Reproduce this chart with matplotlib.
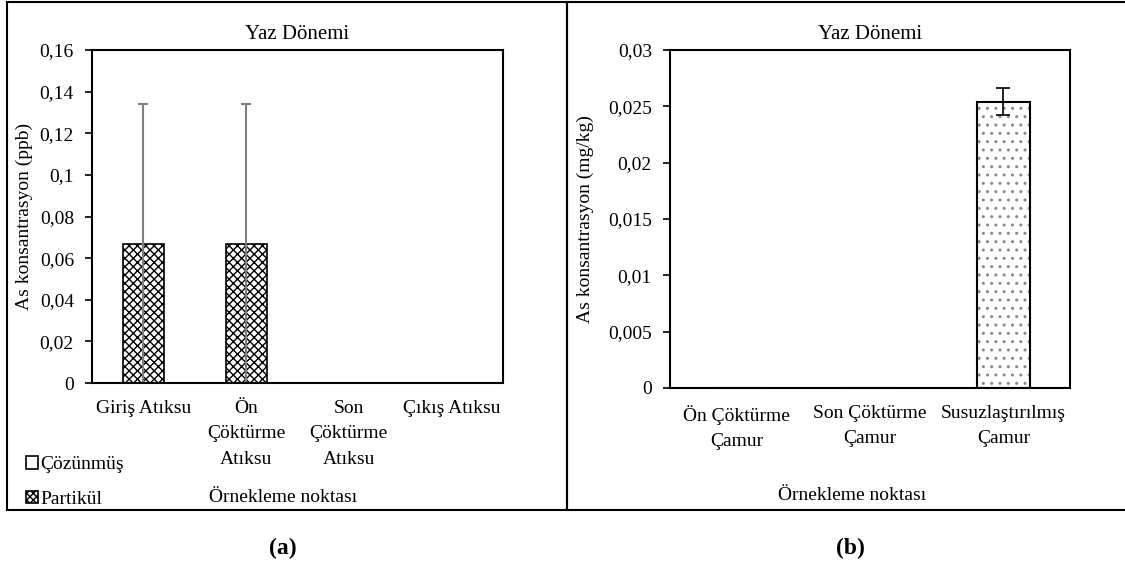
import numpy as np
import matplotlib
matplotlib.use("Agg")
import matplotlib.pyplot as plt
from matplotlib.patches import Patch, Rectangle

plt.rcParams['font.family'] = ['Liberation Serif', 'DejaVu Serif']
plt.rcParams['font.size'] = 14
plt.rcParams['hatch.linewidth'] = 1.0

# panel (a) - atıksu
cats_a = ['Giriş Atıksu', 'Ön\nÇöktürme\nAtıksu', 'Son\nÇöktürme\nAtıksu', 'Çıkış Atıksu']
cozunmus_a = [0, 0, 0, 0]
partikul_a = [0.067, 0.067, 0, 0]
err_a = [0.067, 0.067, 0, 0]
yticks_a = [0, 0.02, 0.04, 0.06, 0.08, 0.1, 0.12, 0.14, 0.16]

# panel (b) - çamur
cats_b = ['Ön Çöktürme\nÇamur', 'Son Çöktürme\nÇamur', 'Susuzlaştırılmış\nÇamur']
vals_b = [0, 0, 0.0254]
err_b = [0, 0, 0.0012]
yticks_b = [0, 0.005, 0.01, 0.015, 0.02, 0.025, 0.03]

W, H = 1125, 569
fig = plt.figure(figsize=(W / 100, H / 100), dpi=100)


def px_axes(x0, y0, x1, y1):
    return fig.add_axes([x0 / W, 1 - y1 / H, (x1 - x0) / W, (y1 - y0) / H])


def fmt(v):
    return ('%g' % v).replace('.', ',')


def style(ax, ticks):
    ax.set_yticks(ticks)
    ax.set_yticklabels([fmt(t) for t in ticks])
    ax.set_ylim(ticks[0], ticks[-1])
    for sp in ax.spines.values():
        sp.set_linewidth(1.5)
    ax.tick_params(axis='y', direction='out', length=5, width=1.2, pad=8)
    ax.tick_params(axis='x', length=0, pad=12)
    ax.set_title('Yaz Dönemi', fontsize=15, pad=8)


# --- (a)
ax1 = px_axes(92, 50, 503, 383)
x = np.arange(len(cats_a))
ax1.bar(x, cozunmus_a, 0.4, color='white', edgecolor='black', linewidth=1.2)
ax1.bar(x, partikul_a, 0.4, bottom=cozunmus_a, color='white', edgecolor='black',
        hatch='xxxx', linewidth=1.2)
ax1.errorbar(x[:2], partikul_a[:2], yerr=err_a[:2], fmt='none', ecolor='#7f7f7f',
             elinewidth=1.5, capsize=3.5, capthick=1.5)
ax1.set_xlim(-0.5, len(cats_a) - 0.5)
ax1.set_xticks(x)
ax1.set_xticklabels(cats_a, linespacing=1.65)
style(ax1, yticks_a)
ax1.set_ylabel('As konsantrasyon (ppb)', fontsize=14, labelpad=5)
fig.text(283 / W, 1 - 497 / H, 'Örnekleme noktası', ha='center', va='center', fontsize=14)

handles = [Patch(facecolor='white', edgecolor='black', linewidth=1.2),
           Patch(facecolor='white', edgecolor='black', hatch='xxxxx', linewidth=1.2)]
fig.legend(handles, ['Çözünmüş', 'Partikül'], loc='center left',
           bbox_to_anchor=(26 / W, 1 - 482 / H), frameon=False, fontsize=14,
           handlelength=0.6, handleheight=0.6, handletextpad=0.15, labelspacing=0.9,
           borderpad=0, borderaxespad=0)

# --- (b)
ax2 = px_axes(670, 50, 1070, 388)
xb = np.arange(len(cats_b))
ax2.bar(xb, vals_b, 0.4, color='white', edgecolor='#8a8a8a', hatch='..', linewidth=0)
ax2.bar(xb, vals_b, 0.4, fill=False, edgecolor='black', linewidth=1.5)
ax2.errorbar(xb[2:], vals_b[2:], yerr=err_b[2:], fmt='none', ecolor='black',
             elinewidth=1.2, capsize=5, capthick=1.2)
ax2.set_xlim(-0.5, len(cats_b) - 0.5)
ax2.set_xticks(xb)
ax2.set_xticklabels(cats_b, linespacing=1.65)
style(ax2, yticks_b)
ax2.set_ylabel('As konsantrasyon (mg/kg)', fontsize=14, labelpad=10)
fig.text(852 / W, 1 - 495 / H, 'Örnekleme noktası', ha='center', va='center', fontsize=14)

# panel frames
fig.patches.append(Rectangle((7 / W, 1 - 510 / H), (567 - 7) / W, (510 - 2) / H,
                             transform=fig.transFigure, fill=False, edgecolor='black', linewidth=1.5))
fig.patches.append(Rectangle((567 / W, 1 - 510 / H), (1130 - 567) / W, (510 - 2) / H,
                             transform=fig.transFigure, fill=False, edgecolor='black', linewidth=1.5))

fig.text(283 / W, 1 - 548 / H, '(a)', ha='center', va='center', fontsize=17, fontweight='bold')
fig.text(850 / W, 1 - 548 / H, '(b)', ha='center', va='center', fontsize=17, fontweight='bold')

fig.savefig('out.png', dpi=100)
